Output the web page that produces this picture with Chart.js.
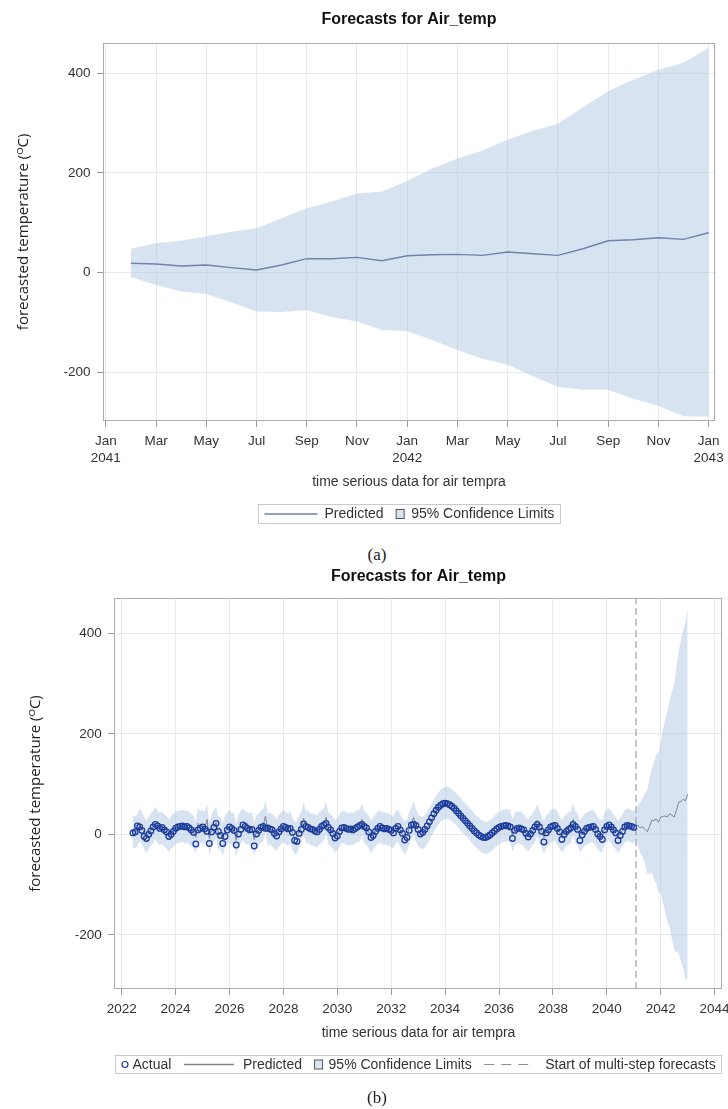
<!DOCTYPE html>
<html>
<head>
<meta charset="utf-8">
<script src="https://cdn.jsdelivr.net/npm/chart.js@4.4.1/dist/chart.umd.min.js"></script>
<style>
  html, body { margin: 0; padding: 0; background: #fff; }
  body { width: 728px; height: 1109px; position: relative; overflow: hidden; }
  canvas { position: absolute; left: 0; }
  .cap { position: absolute; width: 40px; margin-left: -20px; text-align: center;
         font: 17px "Liberation Serif", "DejaVu Serif", serif; color: #222; line-height: 20px; }
</style>
</head>
<body>
<canvas id="chartA" width="728" height="540" style="top:0"></canvas>
<div class="cap" style="left:377px;top:545px">(a)</div>
<canvas id="chartB" width="728" height="530" style="top:560px"></canvas>
<div class="cap" style="left:377px;top:1088px">(b)</div>
<script>
// ---- forecast horizon, Feb 2041 .. Jan 2043 (one value per month)
const fcPred  = [18.7, 17.3, 13.3, 15.3, 10, 5.3, 15.3, 28, 28, 30.7, 24, 34,
                 36, 36.7, 34.7, 41.3, 38, 34.7, 48, 64, 66, 70, 66.7, 80];
const fcUpper = [48, 59, 64, 73, 82, 89, 109, 129, 143, 159, 163, 184,
                 209, 229, 245, 267, 284, 299, 332, 364, 387, 407, 421, 451];
const fcLower = [-9, -25, -38, -43, -60, -78, -79, -75, -89, -98, -115, -117,
                 -135, -155, -173, -185, -208, -229, -235, -235, -253, -267, -288, -289];

// tick labels of panel (a): months since Jan 2041
const monthTicksA  = [0, 2, 4, 6, 8, 10, 12, 14, 16, 18, 20, 22, 24];
const monthLabelsA = [['Jan', '2041'], 'Mar', 'May', 'Jul', 'Sep', 'Nov',
                      ['Jan', '2042'], 'Mar', 'May', 'Jul', 'Sep', 'Nov', ['Jan', '2043']];

// ---- history, Jun 2022 .. Jan 2041 (one value per month)
const histActual = [
  3, 5, 17, 15, 8, -4, -8, 0, 7, 15, 20, 17, 12, 14, 9, 5, -4, 0, 6, 12, 15, 16, 17, 15, 16, 13, 9, 4, -19, 9,
  12, 15, 11, 6, -18, 5, 14, 22, 6, -2, -18, -4, 9, 15, 12, 8, -21, 1, 10, 19, 16, 12, 9, 10, -23, 1, 8, 14, 16, 12,
  13, 11, 9, 2, -3, 5, 11, 16, 14, 11, 12, 4, -12, -14, 2, 10, 21, 16, 14, 11,
  10, 7, 5, 10, 16, 19, 22, 14, 9, 2, -7, -3, 6, 13, 14, 12, 10, 11, 9, 12, 15, 18, 20, 16, 13, 5, -6, -2, 6, 12,
  16, 13, 11, 12, 10, 8, 3, 12, 16, 9, 2, -11, -6, 8, 19, 20, 18, 10,
  1, 4, 10, 17, 25, 33, 41, 48, 54, 58, 61, 62, 61, 59, 56, 52, 47, 42, 37, 32, 27, 22, 17, 12, 7, 3, -1, -4, -6, -6,
  -4, -1, 3, 7, 11, 14, 16, 17, 18, 17, 15,
  -8, 8, 12, 13, 11, 9, 2, -5, 1, 8, 15, 20, 15, 6, -15, 3, 9, 15, 17, 18, 12, 5, -10, 0, 6, 10, 13, 20, 16, 10,
  -12, -1, 6, 12, 14, 15, 16, 10, 1, -4, -10, 9, 16, 19, 15, 9, 3, -12, -2, 6, 15, 18, 17, 16, 14
];
const histPred = [
  6, 4, 9, 19, 13, 3, -5, 3, 10, 15, 23, 15, 11, 13, 8, 4, -3, 4, 8, 13, 15, 16, 17, 14, 16, 12, 8, 5, -6, 22,
  14, 16, 12, 30, -8, 8, 16, 24, 4, 2, -10, 6, 12, 16, 10, 10, -12, 8, 14, 20, 14, 12, 10, 12, -10, 6, 10, 16, 18, 36,
  10, 12, 8, 4, -2, 8, 12, 18, 12, 10, 14, 2, -8, -6, 6, 14, 32, 14, 16, 10,
  10, 8, 6, 12, 16, 20, 34, 12, 8, 4, -4, 0, 8, 14, 14, 12, 10, 12, 10, 14, 16, 18, 30, 14, 12, 4, -4, 2, 8, 14,
  16, 12, 12, 10, 10, 6, 4, 14, 18, 8, 0, -8, -2, 12, 22, 34, 18, 8,
  4, 2, 6, 13, 21, 29, 37, 45, 52, 57, 60, 63, 63, 61, 58, 54, 50, 45, 40, 35, 30, 25, 20, 15, 10, 5, 1, -3, -5, -7,
  -6, -3, 0, 5, 9, 13, 15, 17, 18, 19, 16,
  -2, 10, 14, 14, 12, 8, 2, -2, 4, 10, 16, 28, 14, 6, -6, 6, 10, 16, 18, 20, 12, 4, -4, 2, 8, 12, 14, 30, 14, 10,
  -4, 2, 8, 12, 14, 16, 16, 10, 2, -2, -4, 12, 18, 20, 14, 8, 2, -6, 2, 8, 16, 20, 18, 16, 15
];
const histBand = 32;          // half width of the one-step 95% limits

const yearTicksB = [2022, 2024, 2026, 2028, 2030, 2032, 2034, 2036, 2038, 2040, 2042, 2044];
const valueTicks = [-200, 0, 200, 400];

const histFirst = { year: 2022, month: 6 };
const fcFirst   = { year: 2041, month: 2 };

const FONT = '"Liberation Sans", Arial, sans-serif';
const bandFill   = 'rgba(178, 199, 229, 0.5)';
const predColorA = '#6f83ab';
const predColorB = '#7d8594';
const actualColor = '#1c3d9c';

Chart.defaults.font.family = FONT;
Chart.defaults.color = '#333';

function decYear(first, i) {
  return first.year + (first.month - 1 + i) / 12;
}

// plot frame all round
const frame = {
  id: 'frame',
  afterDraw(chart) {
    const { ctx, chartArea: a } = chart;
    ctx.save();
    ctx.strokeStyle = '#ababab';
    ctx.lineWidth = 1;
    ctx.strokeRect(Math.round(a.left) + 0.5, Math.round(a.top) + 0.5,
                   Math.round(a.right - a.left) - 1, Math.round(a.bottom - a.top) - 1);
    ctx.restore();
  }
};

// SAS style legend in a thin box under the x axis title
const boxLegend = {
  id: 'boxLegend',
  afterDraw(chart, args, opts) {
    const { ctx, chartArea: a } = chart;
    const xs = chart.scales.x;
    const items = opts.items;
    ctx.save();
    ctx.font = '14px ' + FONT;
    const pad = 6, itemGap = 12.5;
    let total = pad * 2;
    items.forEach((it, k) => {
      it.tw = ctx.measureText(it.text).width;
      total += it.sw + it.gap + it.tw + (k ? itemGap : 0);
    });
    const left = Math.round((a.left + a.right) / 2 - total / 2) + 0.5;
    const top = Math.round(xs.bottom + opts.offset) + 0.5;
    const h = opts.height;
    ctx.strokeStyle = '#cacaca';
    ctx.lineWidth = 1;
    ctx.strokeRect(left, top, Math.round(total), h);
    const cy = top + h / 2;
    let x = left + pad;
    items.forEach((it, k) => {
      if (k) x += itemGap;
      ctx.save();
      if (it.kind === 'line' || it.kind === 'dash') {
        ctx.strokeStyle = it.color;
        ctx.lineWidth = it.kind === 'line' ? 1.4 : 1;
        if (it.kind === 'dash') ctx.setLineDash([10, 7]);
        ctx.beginPath();
        ctx.moveTo(x, cy);
        ctx.lineTo(x + it.sw, cy);
        ctx.stroke();
      } else if (it.kind === 'rect') {
        ctx.fillStyle = 'rgb(218, 228, 242)';
        ctx.fillRect(x, cy - 4.5, it.sw, 9);
        ctx.strokeStyle = '#555';
        ctx.strokeRect(x, cy - 4.5, it.sw, 9);
      } else if (it.kind === 'circle') {
        ctx.strokeStyle = it.color;
        ctx.lineWidth = 1.2;
        ctx.beginPath();
        ctx.arc(x + it.sw / 2, cy, 3, 0, Math.PI * 2);
        ctx.stroke();
      }
      ctx.restore();
      x += it.sw + it.gap;
      ctx.fillStyle = '#333';
      ctx.textBaseline = 'middle';
      ctx.fillText(it.text, x, cy + 0.5);
      x += it.tw;
    });
    ctx.restore();
  }
};

function yAxis(min, max, width, titlePad) {
  return {
    type: 'linear', min: min, max: max,
    afterBuildTicks: s => { s.ticks = valueTicks.map(v => ({ value: v })); },
    afterFit: s => { s.width = width; s.paddingTop = 0; s.paddingBottom = 0; },
    ticks: { font: { size: 13.5 }, color: '#333', padding: 6.5 },
    grid: { color: '#e9e9e9', tickColor: '#999', tickLength: 6 },
    border: { display: false },
    title: { display: true, text: 'forecasted temperature (ᴼC)', color: '#222',
             font: { family: '"Open Sans", "DejaVu Sans", sans-serif', size: 15 },
             padding: { top: titlePad, bottom: 0 } }
  };
}

function xAxis(min, max, ticks, labelFor, height) {
  return {
    type: 'linear', min: min, max: max,
    afterBuildTicks: s => { s.ticks = ticks.map(v => ({ value: v })); },
    afterFit: s => { s.height = height; s.paddingLeft = 0; s.paddingRight = 0; },
    ticks: { font: { size: 13.5, lineHeight: 1.28 }, color: '#333', padding: 5.4,
             maxRotation: 0, autoSkip: false, callback: (v, i) => labelFor(v, i) },
    grid: { color: '#e9e9e9', tickColor: '#999', tickLength: 6 },
    border: { display: false },
    title: { display: true, text: 'time serious data for air tempra', color: '#333',
             font: { size: 14 }, padding: 0 }
  };
}

function titleOpts(top, bottom) {
  return { display: true, text: 'Forecasts for Air_temp', color: '#111', fullSize: false,
           font: { size: 16, weight: 'bold' }, padding: { top: top, bottom: bottom } };
}

const hidden = 'rgba(0,0,0,0)';

// ---------- (a) forecast only
// (lower "order" is painted later, i.e. on top)
new Chart(document.getElementById('chartA'), {
  type: 'line',
  data: {
    datasets: [
      { label: 'upper', order: 3, data: fcUpper.map((v, j) => ({ x: j + 1, y: v })),
        borderColor: hidden, borderWidth: 0, pointRadius: 0, fill: false },
      { label: '95% Confidence Limits', order: 2, data: fcLower.map((v, j) => ({ x: j + 1, y: v })),
        borderColor: hidden, borderWidth: 0, pointRadius: 0, fill: '-1', backgroundColor: bandFill },
      { label: 'Predicted', order: 1, data: fcPred.map((v, j) => ({ x: j + 1, y: v })),
        borderColor: predColorA, borderWidth: 1.4, pointRadius: 0, fill: false }
    ]
  },
  options: {
    responsive: false,
    animation: false,
    layout: { padding: { left: 0, right: 13.1, top: 0, bottom: 49.6 } },
    plugins: {
      legend: { display: false },
      tooltip: { enabled: false },
      title: titleOpts(10.4, 13.1),
      boxLegend: {
        offset: 13.6, height: 19,
        items: [
          { kind: 'line', sw: 53, gap: 7, color: predColorA, text: 'Predicted' },
          { kind: 'rect', sw: 8, gap: 7, text: '95% Confidence Limits' }
        ]
      }
    },
    scales: {
      x: xAxis(-0.108, 24.25, monthTicksA, (v, i) => monthLabelsA[i], 69.4),
      y: yAxis(-297.7, 461.4, 103.1, 15)
    }
  },
  plugins: [frame, boxLegend]
});

// ---------- (b) history plus forecast
const yMinB = -307.4, yMaxB = 470.2;
const histX = histActual.map((v, i) => decYear(histFirst, i));
const fcX = fcPred.map((v, j) => decYear(fcFirst, j));
const allX = histX.concat(fcX);
const upperB = histPred.map(v => v + histBand).concat(fcUpper);
const lowerB = histPred.map(v => v - histBand).concat(fcLower);
const predB = histPred.concat(fcPred);
const fcStartB = fcX[0];

new Chart(document.getElementById('chartB'), {
  type: 'line',
  data: {
    datasets: [
      { label: 'upper', order: 5, data: upperB.map((v, i) => ({ x: allX[i], y: v })),
        borderColor: hidden, borderWidth: 0, pointRadius: 0, fill: false },
      { label: '95% Confidence Limits', order: 4, data: lowerB.map((v, i) => ({ x: allX[i], y: v })),
        borderColor: hidden, borderWidth: 0, pointRadius: 0, fill: '-1', backgroundColor: bandFill },
      { label: 'Predicted', order: 3, data: predB.map((v, i) => ({ x: allX[i], y: v })),
        borderColor: predColorB, borderWidth: 1, pointRadius: 0, fill: false },
      { label: 'Actual', order: 1, data: histActual.map((v, i) => ({ x: histX[i], y: v })),
        showLine: false, pointRadius: 2.8, pointBorderWidth: 1.3,
        pointBorderColor: actualColor, pointBackgroundColor: hidden },
      { label: 'Start of multi-step forecasts', order: 2,
        data: [{ x: fcStartB, y: yMinB }, { x: fcStartB, y: yMaxB }],
        borderColor: '#8f8f8f', borderWidth: 1, borderDash: [7, 4], pointRadius: 0, fill: false }
    ]
  },
  options: {
    responsive: false,
    animation: false,
    layout: { padding: { left: 0, right: 5.2, top: 0, bottom: 48.6 } },
    plugins: {
      legend: { display: false },
      tooltip: { enabled: false },
      title: titleOpts(7.4, 11.4),
      boxLegend: {
        offset: 13.6, height: 18,
        items: [
          { kind: 'circle', sw: 7, gap: 4, color: actualColor, text: 'Actual' },
          { kind: 'line', sw: 50, gap: 9, color: predColorB, text: 'Predicted' },
          { kind: 'rect', sw: 8, gap: 6, text: '95% Confidence Limits' },
          { kind: 'dash', sw: 47, gap: 14, color: '#8f8f8f', text: 'Start of multi-step forecasts' }
        ]
      }
    },
    scales: {
      x: xAxis(2021.725, 2044.3, yearTicksB, v => String(v), 52.4),
      y: yAxis(yMinB, yMaxB, 114.3, 27)
    }
  },
  plugins: [frame, boxLegend]
});
</script>
</body>
</html>
